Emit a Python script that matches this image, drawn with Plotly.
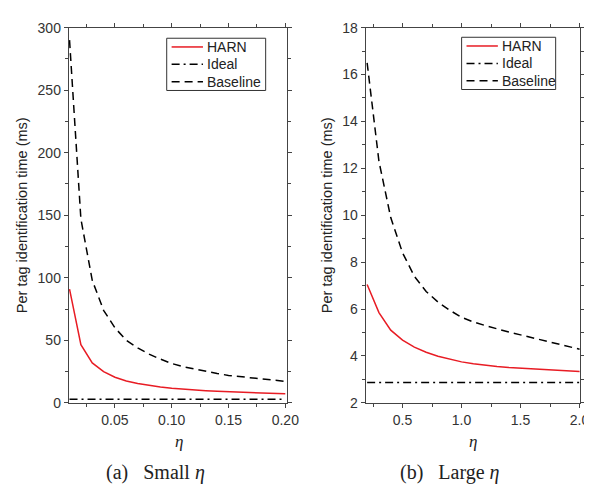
import plotly.graph_objects as go

# ---- data ----
eta_small = [0.01, 0.02, 0.03, 0.04, 0.05, 0.06, 0.07, 0.08, 0.09, 0.10,
             0.11, 0.12, 0.13, 0.14, 0.15, 0.16, 0.17, 0.18, 0.19, 0.20]
harn_small = [91, 46.5, 32, 25, 20.5, 17.5, 15.5, 14, 12.8, 11.8,
              11, 10.3, 9.8, 9.3, 8.9, 8.5, 8.2, 7.9, 7.6, 7.3]
base_small = [290, 147, 98, 74, 60, 50, 44, 39, 35, 31.5,
              29, 27, 25, 23.5, 22, 21, 20, 19, 18, 17.2]
ideal_small = [2.85] * len(eta_small)

eta_large = [0.2, 0.3, 0.4, 0.5, 0.6, 0.7, 0.8, 0.9, 1.0, 1.1,
             1.2, 1.3, 1.4, 1.5, 1.6, 1.7, 1.8, 1.9, 2.0]
harn_large = [7.05, 5.85, 5.1, 4.68, 4.38, 4.16, 3.99, 3.86, 3.75, 3.67,
              3.6, 3.55, 3.51, 3.48, 3.44, 3.41, 3.38, 3.36, 3.34]
base_large = [16.5, 12.3, 9.9, 8.4, 7.4, 6.75, 6.3, 5.95, 5.65, 5.45,
              5.3, 5.15, 5.02, 4.9, 4.78, 4.66, 4.53, 4.41, 4.29]
ideal_large = [2.87] * len(eta_large)

series_names = ["HARN", "Ideal", "Baseline"]
x_ticks_small = [0.05, 0.10, 0.15, 0.20]
x_ticklabels_small = ["0.05", "0.10", "0.15", "0.20"]
y_ticks_small = [0, 50, 100, 150, 200, 250, 300]
x_ticks_large = [0.5, 1.0, 1.5, 2.0]
x_ticklabels_large = ["0.5", "1.0", "1.5", "2.0"]
y_ticks_large = [2, 4, 6, 8, 10, 12, 14, 16, 18]

RED = "rgb(232,28,36)"
BLK = "black"
W, H = 592, 489
series_styles = [dict(color=RED, width=1.5),
                 dict(color=BLK, width=1.5, dash="8px,4px,2px,4px"),
                 dict(color=BLK, width=1.5, dash="8px,5px")]

fig = go.Figure()


def add_panel(x, ys, xa, ya):
    for name, y, st in zip(series_names, ys, series_styles):
        fig.add_trace(go.Scatter(x=x, y=y, mode="lines", name=name, line=st,
                                 xaxis=xa, yaxis=ya, showlegend=False))


add_panel(eta_small, [harn_small, ideal_small, base_small], "x", "y")
add_panel(eta_large, [harn_large, ideal_large, base_large], "x2", "y2")

sans = "Liberation Sans, Arial, sans-serif"
serif = "Liberation Serif, Times New Roman, serif"
tickfont = dict(family=sans, size=14, color="#333")
common = dict(showline=True, linecolor="#444", linewidth=1, mirror="allticks",
              ticks="outside", ticklen=4, tickwidth=1, tickcolor="#444",
              showgrid=False, zeroline=False, tickfont=tickfont)
ytitle = dict(text="Per tag identification time (ms)",
              font=dict(family=sans, size=14.5, color="#222"), standoff=6)

yd = [1 - 400 / H, 1 - 12 / H]

fig.update_layout(
    width=W, height=H, margin=dict(l=0, r=0, t=0, b=0),
    paper_bgcolor="white", plot_bgcolor="white", showlegend=False,
    xaxis=dict(domain=[62 / W, 285 / W], range=[0.0093, 0.2017], anchor="y",
               tickvals=x_ticks_small, ticktext=x_ticklabels_small,
               minor=dict(dtick=0.025, ticks="outside", ticklen=3, tickcolor="#444"), **common),
    yaxis=dict(domain=yd, range=[0, 300], anchor="x", tickvals=y_ticks_small,
               minor=dict(dtick=25, ticks="outside", ticklen=3, tickcolor="#444"),
               title=ytitle, **common),
    xaxis2=dict(domain=[365 / W, 584 / W], range=[0.187, 2.005], anchor="y2",
                tickvals=x_ticks_large, ticktext=x_ticklabels_large,
                minor=dict(dtick=0.25, tick0=0, ticks="outside", ticklen=3, tickcolor="#444"), **common),
    yaxis2=dict(domain=yd, range=[2, 18], anchor="x2", tickvals=y_ticks_large,
                minor=dict(dtick=1, tick0=1, ticks="outside", ticklen=3, tickcolor="#444"),
                title=ytitle, **common),
)


def px(x):
    return x / W


def py(y):
    return 1 - y / H


# manual legends (box, line samples, labels)
for (bx0, by0, bx1, by1) in [(162, 23, 263, 77), (463, 22, 559, 76)]:
    fig.add_shape(type="rect", xref="paper", yref="paper",
                  x0=px(bx0), x1=px(bx1), y0=py(by0), y1=py(by1),
                  line=dict(color="#333", width=1), fillcolor="white", layer="above")
    for k, (name, st) in enumerate(zip(series_names, series_styles)):
        yy = by0 + 9 + 18 * k
        fig.add_shape(type="line", xref="paper", yref="paper",
                      x0=px(bx0 + 5), x1=px(bx0 + 37), y0=py(yy), y1=py(yy),
                      line=st, layer="above")
        fig.add_annotation(xref="paper", yref="paper", x=px(bx0 + 39), y=py(yy),
                           text=name, showarrow=False, xanchor="left", yanchor="middle",
                           font=dict(family=sans, size=14, color="#222"))

ann = [
    dict(x=175 / W, y=1 - 440 / H, text="<i>η</i>", font=dict(family=serif, size=17, color="#222")),
    dict(x=475 / W, y=1 - 440 / H, text="<i>η</i>", font=dict(family=serif, size=17, color="#222")),
    dict(x=151 / W, y=1 - 472 / H, text="(a)&nbsp;&nbsp; Small <i>η</i>", font=dict(family=serif, size=20, color="#222")),
    dict(x=451 / W, y=1 - 472 / H, text="(b)&nbsp;&nbsp; Large <i>η</i>", font=dict(family=serif, size=20, color="#222")),
]
for a in ann:
    fig.add_annotation(xref="paper", yref="paper", showarrow=False,
                       xanchor="center", yanchor="middle", **a)

fig.write_html("out.html")
